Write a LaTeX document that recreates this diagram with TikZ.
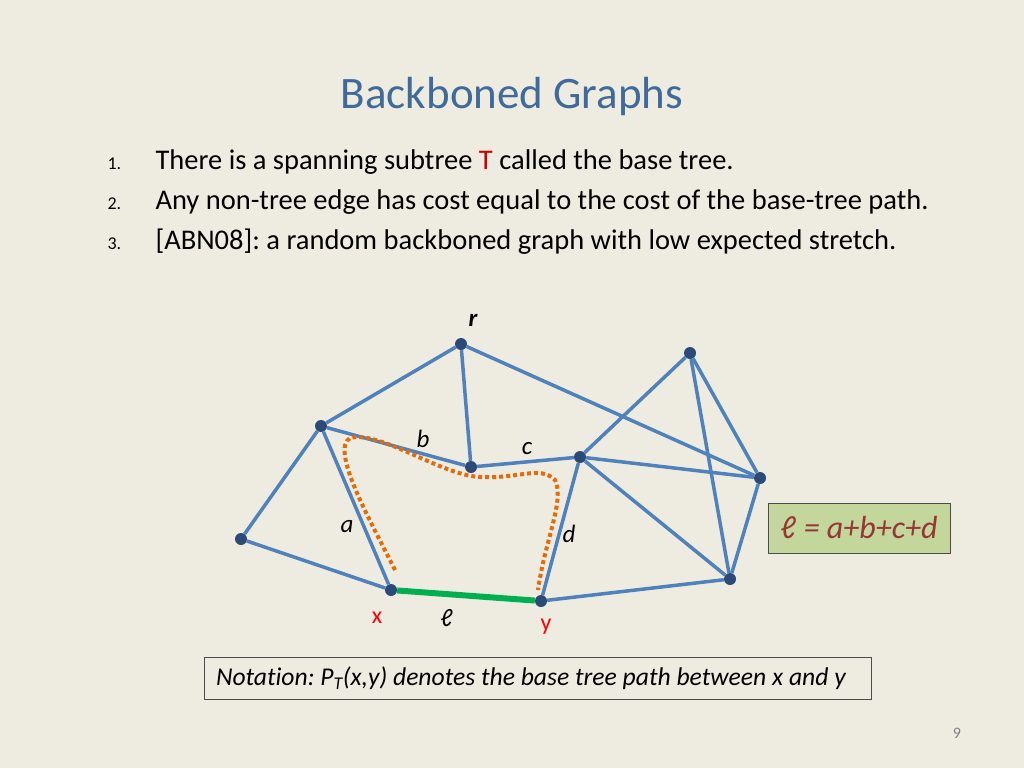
\documentclass[tikz,border=0pt]{standalone}
\usepackage{fontspec}
\setmainfont{Carlito}[Ligatures=NoCommon]
\usepackage{xcolor}
\usepackage{tikz}
\definecolor{slidebg}{HTML}{EEECE1}
\definecolor{titleblue}{HTML}{3F6A9A}
\definecolor{edgeblue}{HTML}{4F81BD}
\definecolor{dotblue}{HTML}{2B4A78}
\definecolor{pathorange}{HTML}{E36C09}
\definecolor{treegreen}{HTML}{00B050}
\definecolor{boxgreen}{HTML}{C3D69B}
\definecolor{sumred}{HTML}{953735}
\tikzset{
    dot/.style={circle, fill=dotblue, inner sep=0pt, minimum size=12pt},
    edge/.style={edgeblue, line width=3.5pt},
    lab/.style={text=black, font=\fontsize{25}{30}\selectfont\itshape},
    num/.style={anchor=base west, font=\fontsize{18}{21}\selectfont},
    item/.style={anchor=base west, font=\fontsize{28.5}{34}\selectfont},
}
\frenchspacing

\begin{document}
\begin{tikzpicture}[x=1pt, y=-1pt]
    \fill[slidebg] (0,0) rectangle (1024,768);
    \useasboundingbox (0,0) rectangle (1024,768);
    \node[titleblue, font=\fontsize{45}{54}\selectfont] (title) at (512,97) {Backboned Graphs};
    \node[num] (n1) at (104,169) {1.};
    \node[num] (n2) at (104,209) {2.};
    \node[num] (n3) at (104,249) {3.};
    \node[item] (t1) at (152,169) {There is a spanning subtree \textcolor{red!80!black}{T} called the base tree.};
    \node[item] (t2) at (152,209) {Any non-tree edge has cost equal to the cost of the base-tree path.};
    \node[item] (t3) at (152,249) {[ABN08]: a random backboned graph with low expected stretch.};
    % graph
    \node[dot] (r) at (461,344) {};
    \node[dot] (p) at (690,353) {};
    \node[dot] (l) at (321,426) {};
    \node[dot] (m) at (471,467) {};
    \node[dot] (c) at (580,457) {};
    \node[dot] (q) at (760,478) {};
    \node[dot] (f) at (241,539) {};
    \node[dot] (x) at (391,590) {};
    \node[dot] (y) at (541,601) {};
    \node[dot] (s) at (730,579) {};
    \draw[edge] (r) -- (l);
    \draw[edge] (r) -- (m);
    \draw[edge] (r) -- (q);
    \draw[edge] (l) -- (f) -- (x) -- (l);
    \draw[edge] (l) -- (m);
    \draw[edge] (m) -- (c);
    \draw[edge] (c) -- (p) -- (q) -- (c);
    \draw[edge] (c) -- (s) -- (p);
    \draw[edge] (q) -- (s) -- (y) -- (c);
    \draw[treegreen, line width=6pt] (x) -- (y);
    \draw[pathorange, line width=4pt, dash pattern=on 4pt off 3pt]
        (395,570) .. controls (370,520) and (330,450) .. (350,438)
        .. controls (380,430) and (440,475) .. (480,477)
        .. controls (520,479) and (540,465) .. (555,480)
        .. controls (565,500) and (545,540) .. (538,590);
    \node[lab] (la) at (347,527) {a};
    \node[lab] (lb) at (423,439) {b};
    \node[lab] (lc) at (527,449) {c};
    \node[lab] (ld) at (569,534) {d};
    \node[lab, font=\fontsize{25}{30}\selectfont\bfseries\itshape] (lr) at (473,320) {r};
    \node[lab] (ll) at (447,618) {ℓ};
    \node[red, font=\fontsize{24}{29}\selectfont] (lx) at (377,618) {x};
    \node[red, font=\fontsize{24}{29}\selectfont] (ly) at (546,627) {y};
    % boxes
    \node[draw=black!70, fill=boxgreen, line width=1pt, minimum width=182pt, minimum height=50pt,
        font=\fontsize{32}{38}\selectfont\itshape, text=sumred] (sum) at (859,528) {ℓ = a+b+c+d};
    \node[draw=black!70, line width=1pt, minimum width=667pt, minimum height=42pt, text width=643pt, align=flush left,
        font=\fontsize{25.6}{30}\selectfont\itshape] (note) at (537.5,678) {Notation: P\textsubscript{T}(x,y) denotes the base tree path between x and y};
    \node[black!50, font=\fontsize{16}{19}\selectfont] (page) at (957,733) {9};
\end{tikzpicture}
\end{document}
